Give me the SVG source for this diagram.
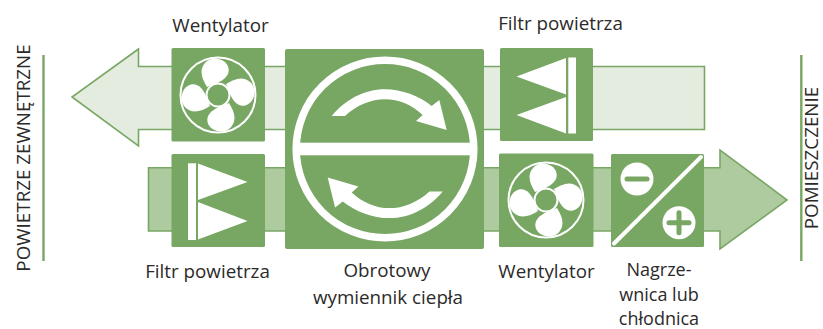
<svg xmlns="http://www.w3.org/2000/svg" width="823" height="329" viewBox="0 0 823 329">
<style>
.box{fill:#78a764}
.w{fill:#fff}
.t{font-family:"Open Sans","Noto Sans",sans-serif;font-size:18.8px;fill:#2b2a29;text-anchor:middle}
.s{font-size:18px}
.rule{stroke:#78a764;stroke-width:2.4;fill:none}
</style>
<defs>
<g id="fan">
<circle r="37.5" fill="none" stroke="#fff" stroke-width="2"/>
<path id="b" class="w" d="M-1,-12C6,-15 12,-20 10.500,-27C9,-33 3,-36.500 -3,-36.500C-11,-36.500 -16.500,-30 -16.500,-23C-16.500,-18 -14,-13 -11,-8Z"/>
<use href="#b" transform="rotate(90)"/>
<use href="#b" transform="rotate(180)"/>
<use href="#b" transform="rotate(270)"/>
<circle r="11.500" fill="#78a764" stroke="#fff" stroke-width="2"/>
</g>
<path id="arc" class="w" d="M331.700,116C345,100 364,89.300 385,89.300C402,89.300 419,96 431.700,106L439.300,100L446.700,130L416,121L422.700,115C412,105 399,99.300 385,99.300C371,99.300 357,105 345,116Z"/>
</defs>
<g id="connectors">
<path d="M138.500,49L72,97L138.500,146V129.500H704.500V66.500H138.500Z" fill="#e4ece0" stroke="#78a764" stroke-width="1.600"/>
<path d="M148.500,167.700H720V150L787,200L720,249V231H148.500Z" fill="#aecba0" stroke="#78a764" stroke-width="1.600"/>
<line class="rule" x1="43.500" y1="55" x2="43.500" y2="261"/>
<line class="rule" x1="801.300" y1="55" x2="801.300" y2="261"/>
</g>
<g id="fan-top">
<rect class="box" x="171.500" y="48" width="93.500" height="93.500" rx="1.500"/>
<use href="#fan" transform="translate(218,95)"/>
<text class="t" x="220.500" y="32">Wentylator</text>
</g>
<g id="wheel">
<rect class="box" x="285" y="49" width="199" height="200" rx="2"/>
<circle cx="385" cy="149" r="88.800" fill="none" stroke="#fff" stroke-width="7.500"/>
<rect class="w" x="298" y="142.700" width="174" height="12.600"/>
<use href="#arc"/>
<use href="#arc" transform="rotate(180 387.200 153.700)"/>
<text class="t" x="387" y="277">Obrotowy</text>
<text class="t" x="388" y="304">wymiennik ciepła</text>
</g>
<g id="filter-top">
<rect class="box" x="500" y="48" width="93" height="93" rx="1.500"/>
<rect class="w" x="568.300" y="57.500" width="7.700" height="76"/>
<path class="w" d="M516.500,76.500L566,58V94.500Z"/>
<path class="w" d="M516.500,115L566,97V133.500Z"/>
<text class="t" x="560.500" y="30">Filtr powietrza</text>
</g>
<g id="filter-bottom">
<rect class="box" x="171.500" y="154" width="93.500" height="93" rx="1.500"/>
<rect class="w" x="188" y="163.300" width="8" height="76.700"/>
<path class="w" d="M198,163.500L247.500,182L198,200Z"/>
<path class="w" d="M198,202L247.500,221L198,239.500Z"/>
<text class="t" x="207.500" y="278">Filtr powietrza</text>
</g>
<g id="fan-bottom">
<rect class="box" x="499" y="153.500" width="94.500" height="93.500" rx="1.500"/>
<use href="#fan" transform="translate(546,200)"/>
<text class="t" x="546.500" y="278">Wentylator</text>
</g>
<g id="heater">
<rect class="box" x="611" y="154" width="93" height="93" rx="1.500"/>
<line x1="614" y1="243.500" x2="701" y2="157" stroke="#fff" stroke-width="4" stroke-linecap="round"/>
<circle class="w" cx="637" cy="179" r="16.500"/>
<line x1="627" y1="179" x2="647" y2="179" stroke="#78a764" stroke-width="5" stroke-linecap="round"/>
<circle class="w" cx="679" cy="222.700" r="16.500"/>
<path d="M669,222.700H689M679,212.700V232.700" stroke="#78a764" stroke-width="5" stroke-linecap="round" fill="none"/>
<text class="t s" x="659" y="276">Nagrze-</text>
<text class="t s" x="659" y="300.500">wnica lub</text>
<text class="t s" x="659" y="325">chłodnica</text>
</g>
<g id="labels">
<text class="t" transform="translate(29.500,158) rotate(-90)">POWIETRZE ZEWNĘTRZNE</text>
<text class="t" transform="translate(817.500,158) rotate(-90)">POMIESZCZENIE</text>
</g>
</svg>
